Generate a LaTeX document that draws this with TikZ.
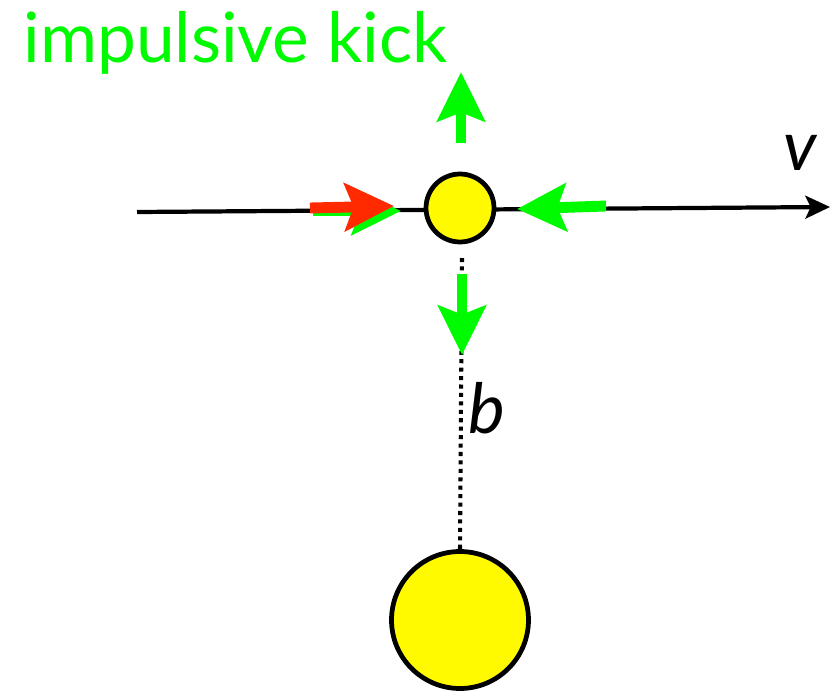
\documentclass[tikz,border=0pt]{standalone}
\usepackage{fontspec}
\setmainfont{Lato}
\usetikzlibrary{arrows.meta}
\definecolor{kickgreen}{RGB}{0,250,0}
\definecolor{kickred}{RGB}{255,42,0}
\definecolor{ballyellow}{RGB}{255,250,0}
\tikzset{
  ball/.style={circle,draw=black,line width=2.7pt,fill=ballyellow,inner sep=0pt},
  kick/.style={line width=6.2pt,-{Stealth[length=28pt,width=27pt,inset=5pt]}},
  lbl/.style={inner sep=0pt,font=\fontsize{39.5}{42}\selectfont}
}
\begin{document}
\begin{tikzpicture}[x={(0.02cm,0)},y={(0,-0.02cm)}]
        \useasboundingbox (0,0) rectangle (838,693);
        % axis along the orbit
        \coordinate (start) at (137,212);
        \coordinate (end) at (830,207);
        \draw[line width=2.4pt,-{Stealth[length=14pt,width=13pt,inset=3pt]}] (start) -- (end);
        \node[ball,minimum size=1.36cm] (star) at (460,208) {};
        \node[ball,minimum size=2.74cm] (mass) at (460,620) {};
        % impact parameter
        \draw[line width=2.3pt,dash pattern=on 2.3pt off 2.5pt] (462,258) -- (mass.north);
        % kicks
        \coordinate (upa) at (461,143);
        \coordinate (upb) at (461,72);
        \coordinate (dna) at (462,274);
        \coordinate (dnb) at (462,355);
        \coordinate (lfa) at (310,208);
        \coordinate (lfb) at (398,208);
        \coordinate (rta) at (606,206);
        \coordinate (rtb) at (517,209);
        \draw[kick,kickgreen] (upa) -- (upb);
        \draw[kick,kickgreen] (dna) -- (dnb);
        \draw[kick,kickgreen] (rta) -- (rtb);
        \draw[kick,kickgreen] ([shift={(3,3)}]lfa) -- ([shift={(3,3)}]lfb);
        \draw[kick,kickred] (lfa) -- ([shift={(-4,-2)}]lfb);
        % labels
        \node[lbl,text=kickgreen,anchor=base west] (title) at (23,62) {impulsive kick};
        \node[lbl,anchor=base west] (vel) at (783,170) {\itshape v};
        \node[lbl,anchor=base west] (imp) at (468,433) {\itshape b};
      \end{tikzpicture}
\end{document}
